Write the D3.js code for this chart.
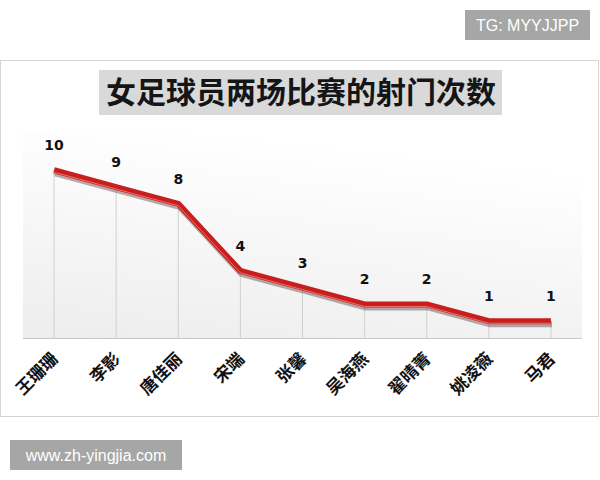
<!DOCTYPE html>
<html>
<head>
<meta charset="utf-8">
<script src="https://cdn.jsdelivr.net/npm/d3@7"></script>
<style>
  body { margin: 0; background: #fff; }
  svg { display: block; }
</style>
</head>
<body>
<script>
// players and their shot counts over two matches
const players = ['王珊珊', '李影', '唐佳丽', '宋端', '张馨', '吴海燕', '翟晴菁', '姚凌薇', '马君'];
const shots = [10, 9, 8, 4, 3, 2, 2, 1, 1];
const chartTitle = '女足球员两场比赛的射门次数';

const W = 600, H = 480;
const plot = { left: 23, right: 582, top: 130, bottom: 338 };

const svg = d3.select('body').append('svg')
    .attr('width', W)
    .attr('height', H);

const defs = svg.append('defs');
const grad = defs.append('linearGradient')
    .attr('id', 'bg')
    .attr('x1', 0).attr('y1', 1).attr('x2', 0.3).attr('y2', 0);
grad.append('stop').attr('offset', '0%').attr('stop-color', '#ededed');
grad.append('stop').attr('offset', '100%').attr('stop-color', '#ffffff');

// watermark top right
svg.append('rect')
    .attr('x', 465).attr('y', 10).attr('width', 125).attr('height', 30)
    .attr('fill', '#a6a6a6');
svg.append('text')
    .attr('x', 527.5).attr('y', 31)
    .attr('text-anchor', 'middle')
    .style('font-family', 'Liberation Sans, Arial, sans-serif')
    .style('font-size', '16px')
    .style('fill', '#fff')
    .text('TG: MYYJJPP');

// chart frame
svg.append('rect')
    .attr('x', 0.5).attr('y', 60.5).attr('width', 598).attr('height', 356)
    .attr('fill', '#fff')
    .attr('stroke', '#d4d4d4');

// plot area background
svg.append('rect')
    .attr('x', plot.left).attr('y', plot.top)
    .attr('width', plot.right - plot.left).attr('height', plot.bottom - plot.top)
    .attr('fill', 'url(#bg)');

// title
svg.append('rect')
    .attr('x', 99).attr('y', 70).attr('width', 403).attr('height', 45)
    .attr('fill', '#d9d9d9');
svg.append('text')
    .attr('x', 301).attr('y', 103)
    .attr('text-anchor', 'middle')
    .style('font-family', 'Noto Sans CJK SC')
    .style('font-size', '30px')
    .style('font-weight', 'bold')
    .style('fill', '#151515')
    .text(chartTitle);

const x = d3.scaleBand()
    .domain(players)
    .range([plot.left, plot.right]);

const y = d3.scaleLinear()
    .domain([0, 12.4])
    .range([plot.bottom, plot.top]);

const cx = d => x(d) + x.bandwidth() / 2;

// drop lines
svg.selectAll('.drop')
    .data(players)
    .enter()
    .append('line')
    .attr('class', 'drop')
    .attr('x1', cx).attr('x2', cx)
    .attr('y1', (d, i) => y(shots[i]))
    .attr('y2', plot.bottom)
    .attr('stroke', '#d0d0d0')
    .attr('stroke-width', 1);

// baseline
svg.append('line')
    .attr('x1', plot.left).attr('x2', plot.right)
    .attr('y1', plot.bottom + 0.5).attr('y2', plot.bottom + 0.5)
    .attr('stroke', '#c8c8c8');

const line = d3.line()
    .x((d, i) => cx(players[i]))
    .y(d => y(d));

// shadow, main line, highlight
svg.append('path')
    .datum(shots)
    .attr('d', line)
    .attr('transform', 'translate(1,3)')
    .attr('fill', 'none')
    .attr('stroke', 'rgba(60,20,20,0.35)')
    .attr('stroke-width', 6);
svg.append('path')
    .datum(shots)
    .attr('d', line)
    .attr('fill', 'none')
    .attr('stroke', '#c81e1e')
    .attr('stroke-width', 6)
    .attr('stroke-linejoin', 'round');
svg.append('path')
    .datum(shots)
    .attr('d', line)
    .attr('transform', 'translate(0,2)')
    .attr('fill', 'none')
    .attr('stroke', 'rgba(255,170,160,0.6)')
    .attr('stroke-width', 1);

// value labels
svg.selectAll('.val')
    .data(shots)
    .enter()
    .append('text')
    .attr('class', 'val')
    .attr('x', (d, i) => cx(players[i]))
    .attr('y', d => y(d) - 20)
    .attr('text-anchor', 'middle')
    .style('font-family', 'DejaVu Sans, sans-serif')
    .style('font-size', '14px')
    .style('font-weight', 'bold')
    .style('fill', '#111')
    .text(d => d);

// category labels, rotated
svg.selectAll('.cat')
    .data(players)
    .enter()
    .append('text')
    .attr('class', 'cat')
    .attr('transform', d => `translate(${cx(d) + 5},${plot.bottom + 22}) rotate(-45)`)
    .attr('text-anchor', 'end')
    .style('font-family', 'Noto Sans CJK SC')
    .style('font-size', '17px')
    .style('font-weight', 'bold')
    .style('fill', '#111')
    .text(d => d);

// watermark bottom left
svg.append('rect')
    .attr('x', 10).attr('y', 440).attr('width', 172).attr('height', 30)
    .attr('fill', '#a6a6a6');
svg.append('text')
    .attr('x', 96).attr('y', 461)
    .attr('text-anchor', 'middle')
    .style('font-family', 'Liberation Sans, Arial, sans-serif')
    .style('font-size', '16px')
    .style('fill', '#fff')
    .text('www.zh-yingjia.com');
</script>
</body>
</html>
